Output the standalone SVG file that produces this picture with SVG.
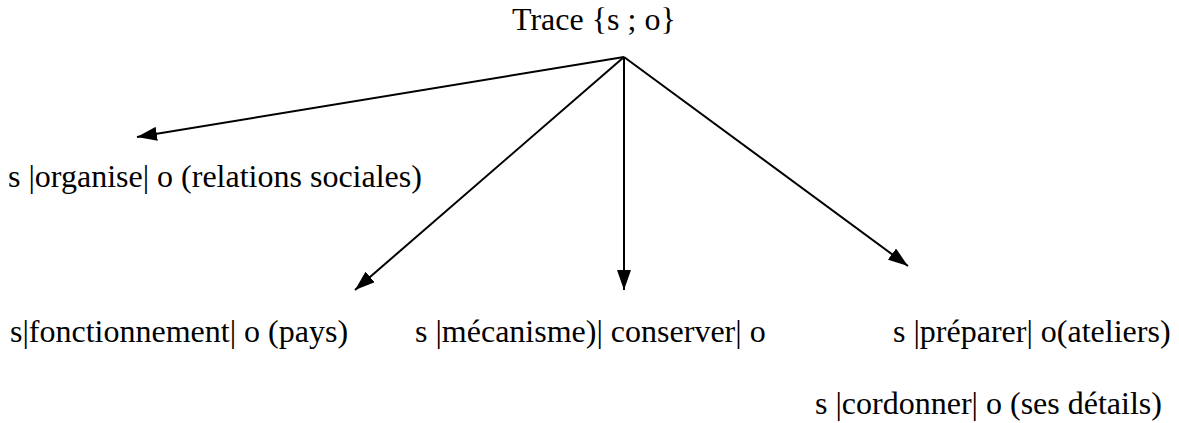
<svg xmlns="http://www.w3.org/2000/svg" width="1179" height="423" viewBox="0 0 1179 423">
<defs>
<marker id="ah" viewBox="0 0 20 14" refX="20" refY="7" markerWidth="20" markerHeight="14" markerUnits="userSpaceOnUse" orient="auto">
<path d="M0,0 L20,7 L0,14 Z" fill="#000"/>
</marker>
</defs>
<style>
text{font-family:"Liberation Serif","Times New Roman",serif;font-size:32px;fill:#000}
.c{stroke:#000;stroke-width:2;fill:none;marker-end:url(#ah)}
</style>
<rect width="1179" height="423" fill="#fff"/>
<g id="root"><text x="512" y="30">Trace {s ; o}</text></g>
<g id="n1"><text x="8" y="187">s |organise| o (relations sociales)</text></g>
<g id="n2"><text x="10" y="342">s|fonctionnement| o (pays)</text></g>
<g id="n3"><text x="415" y="342">s |mécanisme)| conserver| o</text></g>
<g id="n4"><text x="893" y="342">s |préparer| o(ateliers)</text></g>
<g id="n5"><text x="815" y="414">s |cordonner| o (ses détails)</text></g>
<g id="connectors">
<line class="c" x1="624" y1="57" x2="137" y2="137"/>
<line class="c" x1="624" y1="57" x2="355" y2="290"/>
<line class="c" x1="624" y1="57" x2="624" y2="290"/>
<line class="c" x1="624" y1="57" x2="908" y2="266"/>
</g>
</svg>
